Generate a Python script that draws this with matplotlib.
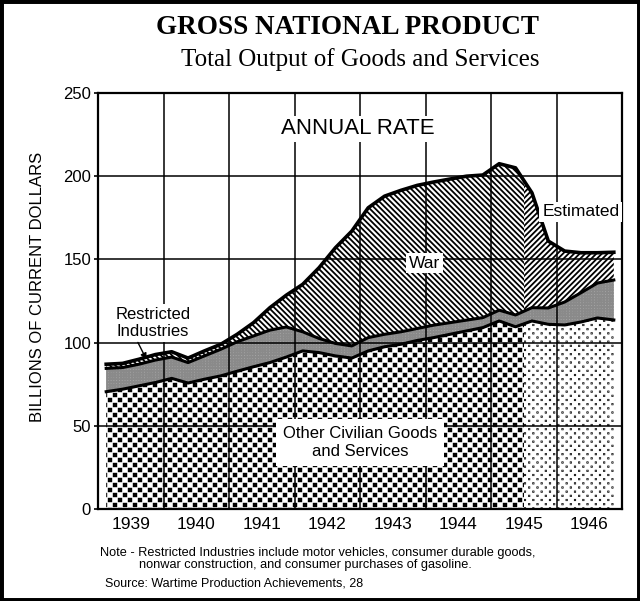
import numpy as np
import matplotlib
matplotlib.use('Agg')
import matplotlib.pyplot as plt
import matplotlib.hatch as mhatch
from matplotlib.path import Path
from matplotlib.patches import Rectangle

# ---------------- data (billions of current dollars, annual rate, quarterly) ----
year_labels = ['1939', '1940', '1941', '1942', '1943', '1944', '1945', '1946']
other_civilian = [70.5, 72, 74, 76, 78.5, 75.7, 78, 80,
                  82.8, 85.5, 88, 91.3, 95, 94, 92, 90.7,
                  95, 97.5, 99, 101.3, 103, 105, 107, 109,
                  113, 109.5, 113, 111, 110.6, 112.4, 114.8, 113.6]
restricted = [14, 13, 13, 13.5, 12.8, 12.3, 14, 16,
              17.7, 18.5, 19.5, 18.1, 11.5, 8.5, 7.5, 7.3,
              8, 7.5, 7.5, 7.2, 7.5, 7, 6.5, 6,
              6.5, 7.1, 8, 9.8, 13.8, 17.6, 21, 24]
war = [2.5, 2.5, 3, 3.3, 3.2, 2.7, 3, 3,
       4.5, 8, 13.5, 19.1, 28.5, 42.5, 57.5, 69,
       78, 83, 85, 86, 86, 86.3, 86.5, 85.7,
       88, 88.4, 69, 40.2, 30.6, 24, 18.2, 16.7]
estimate_start = 1945.5


# ---------------- custom hatches: staggered filled squares -----------------
def _make_square_hatch(char, per_char, half):
    class _Squares(mhatch.HatchPatternBase):
        def __init__(self, hatch, density):
            self.n = hatch.count(char) * per_char
            if self.n:
                self.num_rows = 2 * self.n
                self.num_shapes = (self.num_rows + 1) * (self.n + 1)
                self.num_vertices = self.num_shapes * 5
            else:
                self.num_vertices = 0

        def set_vertices_and_codes(self, vertices, codes):
            off = 1.0 / self.n
            h = half * off
            sq = np.array([[-h, -h], [h, -h], [h, h], [-h, h], [-h, -h]])
            parts = []
            for r in range(self.num_rows + 1):
                shift = 0.0 if r % 2 == 0 else off / 2
                for c in range(self.n + 1):
                    parts.append(sq + [c * off + shift, r * off / 2])
            vertices[:] = np.concatenate(parts)
            codes[:] = np.tile([Path.MOVETO, Path.LINETO, Path.LINETO, Path.LINETO,
                                Path.CLOSEPOLY], self.num_shapes)
    return _Squares


_big_squares = _make_square_hatch('*', 10, 0.13)   # '*'  -> coarse black squares
_fine_dots = _make_square_hatch('O', 12, 0.02)     # 'O'  -> sparse small dots
mhatch._hatch_types = [(_big_squares if c is mhatch.Stars else
                        _fine_dots if c is mhatch.LargeCircles else c)
                       for c in mhatch._hatch_types]

plt.rcParams['font.family'] = ['Liberation Sans', 'DejaVu Sans']
plt.rcParams['hatch.linewidth'] = 1.3

fig = plt.figure(figsize=(6.4, 6.01), dpi=100)
ax = fig.add_axes([98 / 640, 1 - 509 / 601, (622 - 98) / 640, (509 - 93) / 601])

n = len(other_civilian)
x = 1939.125 + 0.25 * np.arange(n)


def stack(hatches, faces, edges, clip):
    polys = ax.stackplot(x, other_civilian, restricted, war,
                         colors=faces, hatch=hatches, linewidth=0, zorder=1)
    for p, e in zip(polys, edges):
        p.set_edgecolor(e)
        p.set_linewidth(0)
        p.set_clip_path(clip)


clip_actual = Rectangle((1939, 0), estimate_start - 1939, 250, transform=ax.transData)
clip_est = Rectangle((estimate_start, 0), 1947 - estimate_start, 250, transform=ax.transData)

stack(['*', '++++++', '\\\\\\\\\\\\'], ['white', '#a9a9a9', 'white'],
      ['black', '#8a8a8a', 'black'], clip_actual)
stack(['O', '++++++', '//////'], ['white', '#a9a9a9', 'white'],
      ['black', '#8a8a8a', 'black'], clip_est)

top_other = np.array(other_civilian)
top_restr = top_other + np.array(restricted)
top_total = top_restr + np.array(war)
ax.plot(x, top_other, color='black', lw=2.2, zorder=3, solid_joinstyle='round')
ax.plot(x, top_restr, color='black', lw=2.2, zorder=3, solid_joinstyle='round')
ax.plot(x, top_total, color='black', lw=2.6, zorder=3, solid_joinstyle='round')

ax.set_xlim(1939, 1947)
ax.set_ylim(0, 250)
ax.set_xticks([1939.5 + i for i in range(len(year_labels))], year_labels)
ax.set_xticks(np.arange(1940, 1947), minor=True)
ax.set_yticks(np.arange(0, 251, 50))
ax.tick_params(axis='x', which='major', length=0, pad=6, labelsize=12.5)
ax.tick_params(axis='x', which='minor', length=0)
ax.tick_params(axis='y', length=3, width=1.2, pad=2, labelsize=12)
ax.grid(axis='x', which='minor', color='black', lw=1.1)
ax.grid(axis='y', which='major', color='black', lw=1.1)
ax.set_axisbelow(False)
for s in ax.spines.values():
    s.set_linewidth(1.6)

box = dict(facecolor='white', edgecolor='none', pad=2)
ax.text(1942.97, 228.4, 'ANNUAL RATE', ha='center', va='center', fontsize=16,
        bbox=box, zorder=6)
ax.text(1943.99, 147.8, 'War', ha='center', va='center', fontsize=12.5,
        bbox=box, zorder=6)
ax.text(1946.37, 178.5, 'Estimated', ha='center', va='center', fontsize=12.5,
        bbox=box, zorder=6)
ax.text(1939.84, 111.8, 'Restricted\nIndustries', ha='center', va='center',
        fontsize=12, linespacing=1.15, bbox=box, zorder=6)
ax.text(1943.0, 39.7, 'Other Civilian Goods\nand Services', ha='center', va='center',
        fontsize=12, linespacing=1.25, bbox=dict(facecolor='white', edgecolor='none', pad=5),
        zorder=6)
ax.annotate('', xy=(1939.76, 88.3), xytext=(1939.59, 101.6),
            arrowprops=dict(arrowstyle='-|>', color='black', lw=1.0, mutation_scale=9),
            zorder=7)

fig.text(38 / 640, 1 - 287 / 601, 'BILLIONS OF CURRENT DOLLARS', rotation=90,
         ha='center', va='center', fontsize=12)
fig.text(347 / 640, 1 - 28 / 601, 'GROSS NATIONAL PRODUCT', ha='center', va='center',
         fontsize=19.5, fontweight='bold', family='Liberation Serif')
fig.text(360 / 640, 1 - 60 / 601, 'Total Output of Goods and Services', ha='center',
         va='center', fontsize=18, family='Liberation Serif')
fig.text(100 / 640, 1 - 553 / 601,
         'Note - Restricted Industries include motor vehicles, consumer durable goods,',
         ha='left', va='center', fontsize=9.2)
fig.text(139 / 640, 1 - 565 / 601,
         'nonwar construction, and consumer purchases of gasoline.',
         ha='left', va='center', fontsize=9.2)
fig.text(105 / 640, 1 - 584 / 601, 'Source: Wartime Production Achievements, 28',
         ha='left', va='center', fontsize=9)

fig.patches.append(Rectangle((0, 0), 1, 1, transform=fig.transFigure, fill=False,
                             edgecolor='black', lw=5, zorder=10))

fig.savefig('out.png', dpi=100)
